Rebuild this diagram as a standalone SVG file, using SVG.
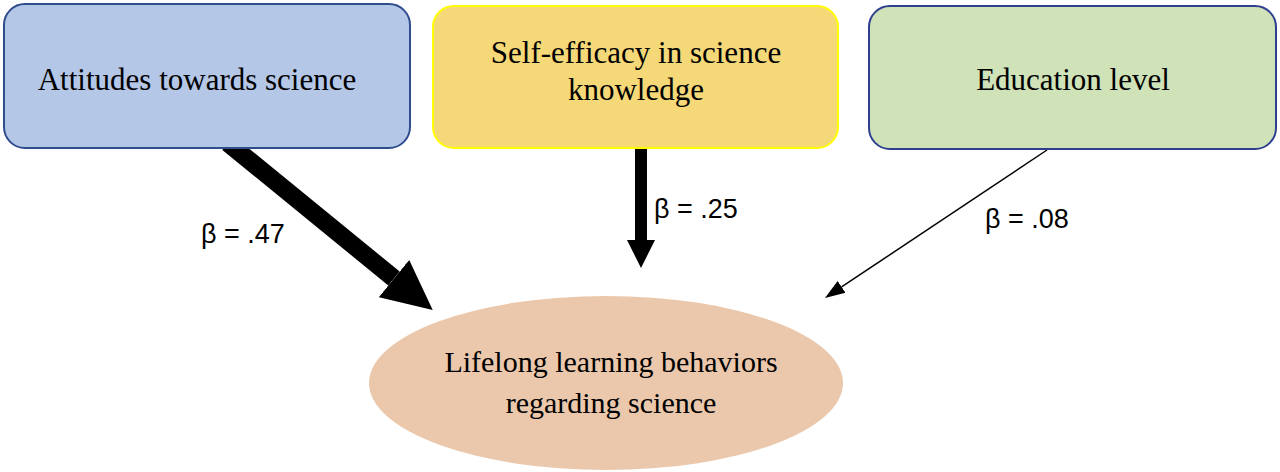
<svg xmlns="http://www.w3.org/2000/svg" width="1280" height="472" viewBox="0 0 1280 472">
<style>
.box{stroke-width:2}
.nt{font-family:"Liberation Serif","Times New Roman",serif;font-size:31px;fill:#000;text-anchor:middle}
.lbl{font-family:"Liberation Sans",Arial,sans-serif;font-size:27px;fill:#000}
.edge{stroke:#000;fill:none}
</style>
<defs>
<marker id="h1" markerUnits="userSpaceOnUse" markerWidth="50" markerHeight="48" refX="0" refY="24" orient="auto"><path d="M0,0 L50,24 L0,48 z" fill="#000"/></marker>
<marker id="h2" markerUnits="userSpaceOnUse" markerWidth="28" markerHeight="30" refX="0" refY="15" orient="auto"><path d="M0,1 L28,15 L0,29 z" fill="#000"/></marker>
<marker id="h3" markerUnits="userSpaceOnUse" markerWidth="20" markerHeight="16" refX="0" refY="8" orient="auto"><path d="M0,1 L20,8 L0,15 z" fill="#000"/></marker>
</defs>
<rect width="1280" height="472" fill="#fff"/>
<g id="connectors">
<line class="edge" x1="228" y1="143" x2="394" y2="278.5" stroke-width="18" marker-end="url(#h1)"/>
<line class="edge" x1="641" y1="145" x2="641" y2="240" stroke-width="12" marker-end="url(#h2)"/>
<line class="edge" x1="1047" y1="150" x2="841.6" y2="286.9" stroke-width="1.5" marker-end="url(#h3)"/>
<text class="lbl" x="201" y="243">β = .47</text>
<text class="lbl" x="654" y="218">β = .25</text>
<text class="lbl" x="985" y="228">β = .08</text>
</g>
<g id="node-attitudes">
<rect class="box" x="4" y="4" width="406" height="144" rx="21" fill="#B4C7E7" stroke="#2F4C8F"/>
<text class="nt" x="197" y="90">Attitudes towards science</text>
</g>
<g id="node-selfefficacy">
<rect class="box" x="433" y="6" width="405" height="142" rx="21" fill="#F5D878" stroke="#FFFF00"/>
<text class="nt" x="636" y="63">Self-efficacy in science</text>
<text class="nt" x="636" y="100">knowledge</text>
</g>
<g id="node-education">
<rect class="box" x="869" y="6" width="407" height="143" rx="21" fill="#CFE2B8" stroke="#2F3F8F"/>
<text class="nt" x="1073" y="90">Education level</text>
</g>
<g id="node-lifelong">
<ellipse cx="606" cy="383" rx="237" ry="87" fill="#EBC8AB"/>
<text class="nt" x="611" y="372" style="font-size:30px">Lifelong learning behaviors</text>
<text class="nt" x="611" y="413" style="font-size:30px">regarding science</text>
</g>
</svg>
